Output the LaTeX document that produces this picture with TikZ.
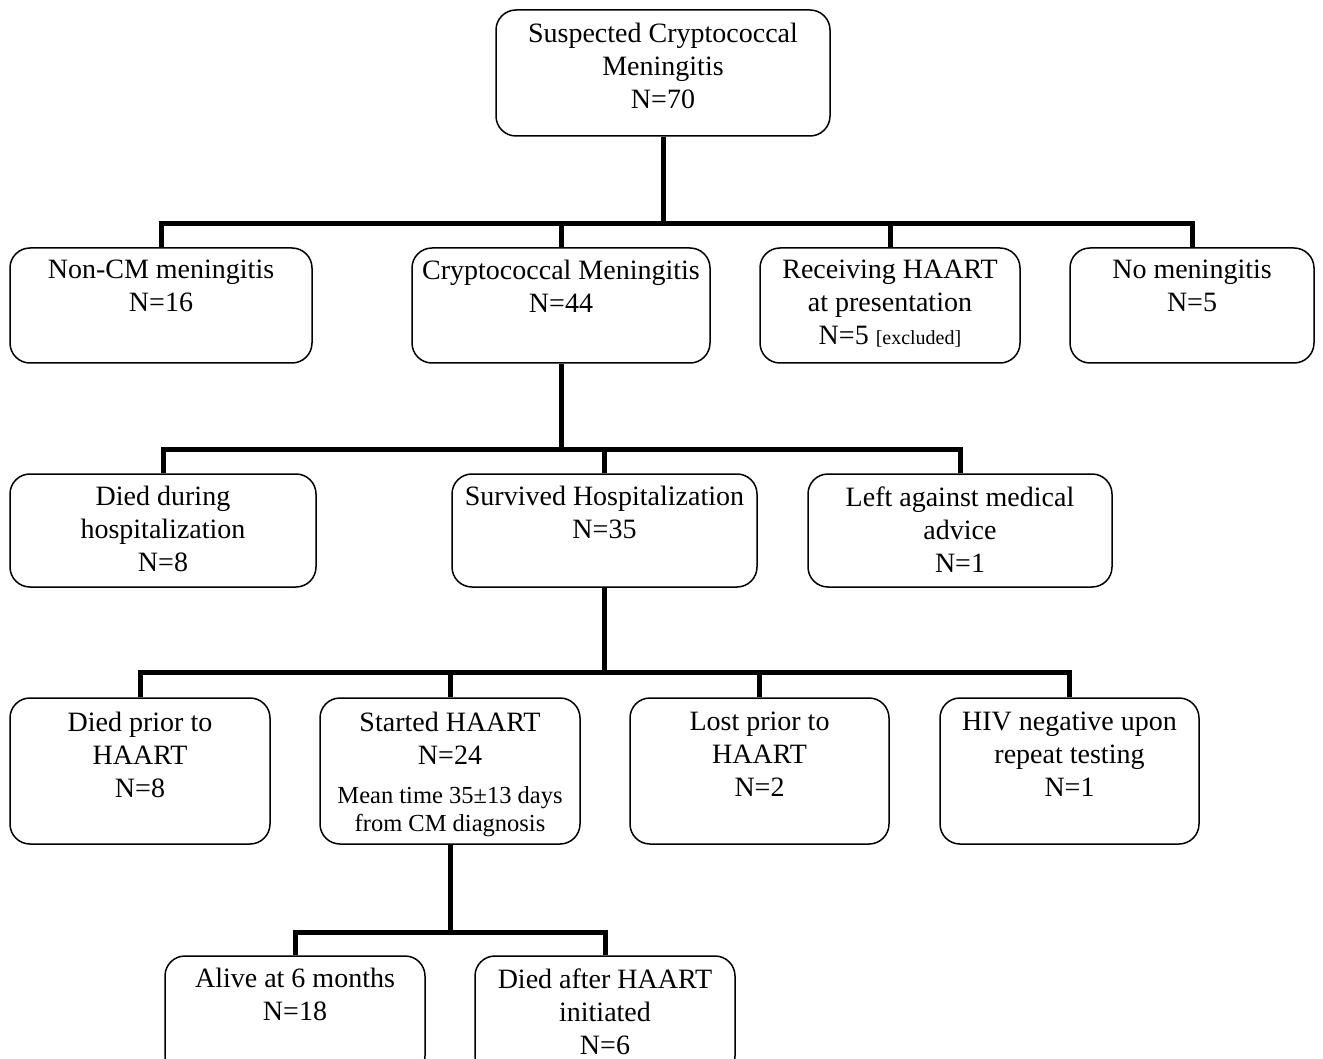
\documentclass[tikz,border=0pt]{standalone}
\usepackage{fontspec}
\setmainfont{Liberation Serif}
\begin{document}
\begin{tikzpicture}[x=1pt,y=-1pt,
  bx/.style={draw=black, line width=1.5pt, rounded corners=20pt, inner sep=0pt, fill=white},
  tx/.style={align=center, inner sep=0pt, font=\fontsize{28}{33}\selectfont},
  smalltx/.style={align=center, inner sep=0pt, font=\fontsize{24.5}{28}\selectfont},
  conn/.style={line width=5pt, line join=miter}]
\clip (0,0) rectangle (1323,1059);
\fill[white] (0,0) rectangle (1323,1059);
% boxes
\node[bx, minimum width=334pt, minimum height=126pt] (top) at (663,73) {};
\node[bx, minimum width=302pt, minimum height=115pt] (noncm) at (161,305.5) {};
\node[bx, minimum width=298pt, minimum height=115pt] (cm) at (561,305.5) {};
\node[bx, minimum width=260pt, minimum height=115pt] (haart) at (890,305.5) {};
\node[bx, minimum width=244pt, minimum height=115pt] (nom) at (1192,305.5) {};
\node[bx, minimum width=306pt, minimum height=113pt] (died) at (163,530.5) {};
\node[bx, minimum width=305pt, minimum height=113pt] (surv) at (604.5,530.5) {};
\node[bx, minimum width=304pt, minimum height=113pt] (left) at (960,530.5) {};
\node[bx, minimum width=260pt, minimum height=146pt] (dprior) at (140,771) {};
\node[bx, minimum width=260pt, minimum height=146pt] (start) at (450,771) {};
\node[bx, minimum width=259pt, minimum height=146pt] (lost) at (759.5,771) {};
\node[bx, minimum width=259pt, minimum height=146pt] (hiv) at (1069.5,771) {};
\node[bx, minimum width=260pt, minimum height=120pt] (alive) at (295,1016) {};
\node[bx, minimum width=260pt, minimum height=120pt] (dafter) at (605,1016) {};
% texts
\node[tx, anchor=north] (top-t) at ([yshift=-14pt]top.north) {Suspected Cryptococcal\\Meningitis\\N=70};
\node[tx, anchor=north] (noncm-t) at ([yshift=-13pt]noncm.north) {Non-CM meningitis\\N=16};
\node[tx, anchor=north] (cm-t) at ([yshift=-13pt]cm.north) {Cryptococcal Meningitis\\N=44};
\node[tx, anchor=north] (haart-t) at ([yshift=-13pt]haart.north) {Receiving HAART\\at presentation\\N=5 {\fontsize{20}{24}\selectfont[excluded]}};
\node[tx, anchor=north] (nom-t) at ([yshift=-13pt]nom.north) {No meningitis\\N=5};
\node[tx, anchor=north] (died-t) at ([yshift=-13pt]died.north) {Died during\\hospitalization\\N=8};
\node[tx, anchor=north] (surv-t) at ([yshift=-13pt]surv.north) {Survived Hospitalization\\N=35};
\node[tx, anchor=north] (left-t) at ([yshift=-13pt]left.north) {Left against medical\\advice\\N=1};
\node[tx, anchor=north] (dprior-t) at ([yshift=-15pt]dprior.north) {Died prior to\\HAART\\N=8};
\node[tx, anchor=north] (start-t) at ([yshift=-15pt]start.north) {Started HAART\\N=24};
\node[smalltx, anchor=north] (start-s) at ([yshift=-89.5pt]start.north) {Mean time 35±13 days\\from CM diagnosis};
\node[tx, anchor=north] (lost-t) at ([yshift=-15pt]lost.north) {Lost prior to\\HAART\\N=2};
\node[tx, anchor=north] (hiv-t) at ([yshift=-15pt]hiv.north) {HIV negative upon\\repeat testing\\N=1};
\node[tx, anchor=north] (alive-t) at ([yshift=-13pt]alive.north) {Alive at 6 months\\N=18};
\node[tx, anchor=north] (dafter-t) at ([yshift=-13pt]dafter.north) {Died after HAART\\initiated\\N=6};
% junctions
\coordinate (j1) at (663,224);
\coordinate (j2) at (561,449);
\coordinate (j3) at (604.5,672);
\coordinate (j4) at (450,932);
% connectors
\draw[conn] (top.south) -- (j1);
\draw[conn] (noncm.north) -- (noncm.north |- j1) -- (nom.north |- j1) -- (nom.north);
\draw[conn] (cm.north) -- (cm.north |- j1);
\draw[conn] (haart.north) -- (haart.north |- j1);
\draw[conn] (cm.south) -- (j2);
\draw[conn] (died.north) -- (died.north |- j2) -- (left.north |- j2) -- (left.north);
\draw[conn] (surv.north) -- (surv.north |- j2);
\draw[conn] (surv.south) -- (j3);
\draw[conn] (dprior.north) -- (dprior.north |- j3) -- (hiv.north |- j3) -- (hiv.north);
\draw[conn] (start.north) -- (start.north |- j3);
\draw[conn] (lost.north) -- (lost.north |- j3);
\draw[conn] (start.south) -- (j4);
\draw[conn] (alive.north) -- (alive.north |- j4) -- (dafter.north |- j4) -- (dafter.north);
\end{tikzpicture}
\end{document}
